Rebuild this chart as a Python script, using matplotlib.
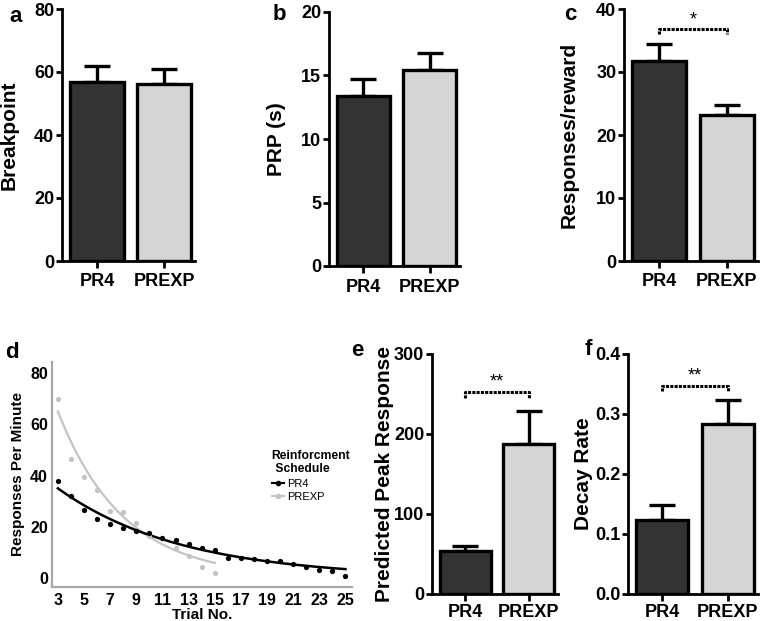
import numpy as np
import matplotlib
matplotlib.use('Agg')
import matplotlib.pyplot as plt
from matplotlib.lines import Line2D

plt.rcParams['font.family'] = ['Liberation Sans', 'DejaVu Sans']

# datos de las barras (media y error estandar)
groups = ['PR4', 'PREXP']
bar_colors = ['#333333', '#d4d4d4']

breakpoint_mean = [56.8, 56.3]
breakpoint_err = [5.2, 4.8]

prp_mean = [13.4, 15.4]
prp_err = [1.3, 1.4]

resp_reward_mean = [31.8, 23.2]
resp_reward_err = [2.6, 1.5]

peak_mean = [54, 187]
peak_err = [6, 42]

decay_mean = [0.123, 0.283]
decay_err = [0.025, 0.040]

# datos del panel d
trials_pr4 = list(range(3, 26))
rpm_pr4 = [38, 32, 26.5, 23, 21, 19.6, 18.2, 17.7, 15.5, 14.8, 13.3, 11.6,
           11, 8, 7.8, 7.4, 6.6, 6.5, 5.5, 4.4, 3.1, 2.9, 0.9]
trials_prexp = list(range(3, 16))
rpm_prexp = [70, 46.5, 39.5, 34.3, 26, 25.8, 21.5, 16.3, 15.6, 11.6, 8.5, 4.2, 2.1]

# parametros del ajuste exponencial
fit_pr4 = (35.0, 0.105)
fit_prexp = (65.0, 0.20)

W, H = 761, 621
fig = plt.figure(figsize=(W / 100, H / 100), dpi=100)


def px_axes(left, right, top, bottom):
    return fig.add_axes([left / W, 1 - bottom / H, (right - left) / W, (bottom - top) / H])


def panel_letter(x, y, txt):
    fig.text(x / W, 1 - y / H, txt, fontsize=16, fontweight='bold', ha='center', va='center')


def bar_panel(box, means, errs, ylim, yticks, ylabel, ylabel_x, fmt='{:g}', sig=None, xpad=4):
    left, right, top, bottom = box
    ax = px_axes(left, right, top, bottom)
    pos = np.arange(len(groups))
    ax.bar(pos, means, width=0.8, color=bar_colors, edgecolor='black', linewidth=2.4, zorder=2)
    ax.errorbar(pos, means, yerr=[np.zeros(len(means)), errs], fmt='none', ecolor='black',
                elinewidth=2.4, capsize=9.5, capthick=2.4, zorder=1)
    ax.set_xlim(-0.52, 1.46)
    ax.set_ylim(*ylim)
    ax.set_yticks(yticks)
    ax.set_yticklabels([fmt.format(t) for t in yticks])
    ax.set_xticks(pos)
    ax.set_xticklabels(groups)
    for s in ['top', 'right']:
        ax.spines[s].set_visible(False)
    for s in ['left', 'bottom']:
        ax.spines[s].set_linewidth(2)
    ax.tick_params(axis='y', length=4, width=2, pad=1.5, labelsize=13)
    ax.tick_params(axis='x', length=5, width=2, pad=xpad, labelsize=13)
    for lab in ax.get_xticklabels() + ax.get_yticklabels():
        lab.set_fontweight('bold')
    ax.set_ylabel(ylabel, fontsize=15, fontweight='bold')
    # la coordenada marca el borde derecho de la etiqueta girada
    ax.yaxis.set_label_coords((ylabel_x - left) / (right - left), 0.5)
    if sig is not None:
        y_end, y_bar, y_txt, stars = sig
        ax.plot([0, 0, 1, 1], [y_end, y_bar, y_bar, y_end], color='black', lw=2.2,
                linestyle=(0, (1, 0.4)), clip_on=False)
        ax.text(0.5, y_txt, stars, ha='center', va='center', fontsize=13)
    return ax


# a
bar_panel((62, 195, 9, 261), breakpoint_mean, breakpoint_err, (0, 80), [0, 20, 40, 60, 80],
          'Breakpoint', 19)
panel_letter(16, 17, 'a')

# b
bar_panel((329, 460, 12, 266), prp_mean, prp_err, (0, 20), [0, 5, 10, 15, 20],
          'PRP (s)', 286)
panel_letter(279, 15, 'b')

# c
bar_panel((624, 758, 9, 261), resp_reward_mean, resp_reward_err, (0, 40), [0, 10, 20, 30, 40],
          'Responses/reward', 579, sig=(36.1, 36.8, 38.2, '*'))
panel_letter(570, 15, 'c')

# e
bar_panel((432, 558, 354, 594), peak_mean, peak_err, (0, 300), [0, 100, 200, 300],
          'Predicted Peak Response', 394, sig=(245, 253, 265, '**'), xpad=2.5)
panel_letter(357, 351, 'e')

# f
bar_panel((628, 758, 354, 594), decay_mean, decay_err, (0, 0.4), [0, 0.1, 0.2, 0.3, 0.4],
          'Decay Rate', 593, fmt='{:.1f}', sig=(0.339, 0.346, 0.364, '**'), xpad=2.5)
panel_letter(588, 350, 'f')

# d
axd = px_axes(52, 352, 362, 587)
xs_pr4 = np.linspace(trials_pr4[0], trials_pr4[-1], 200)
xs_prexp = np.linspace(trials_prexp[0], trials_prexp[-1], 200)
axd.plot(xs_prexp, fit_prexp[0] * np.exp(-fit_prexp[1] * (xs_prexp - 3)), color='#c4c4c4', lw=1.6)
axd.plot(xs_pr4, fit_pr4[0] * np.exp(-fit_pr4[1] * (xs_pr4 - 3)), color='black', lw=1.8)
axd.plot(trials_prexp, rpm_prexp, 'o', color='#c4c4c4', ms=3.8, mec='none')
axd.plot(trials_pr4, rpm_pr4, 'o', color='black', ms=3.8, mec='none')
axd.set_xlim(2.55, 25.5)
axd.set_ylim(-3.5, 84.3)
axd.set_xticks(range(3, 26, 2))
axd.set_yticks([0, 20, 40, 60, 80])
for s in ['top', 'right']:
    axd.spines[s].set_visible(False)
for s in ['left', 'bottom']:
    axd.spines[s].set_color('#a8a8a8')
    axd.spines[s].set_linewidth(1.6)
axd.tick_params(length=0, labelsize=11.5)
axd.tick_params(axis='x', pad=4)
axd.tick_params(axis='y', pad=3)
for lab in axd.get_xticklabels() + axd.get_yticklabels():
    lab.set_fontweight('bold')
axd.set_xlabel('Trial No.', fontsize=11, fontweight='bold', labelpad=0)
axd.set_ylabel('Responses Per Minute', fontsize=11, fontweight='bold')
axd.yaxis.set_label_coords((25 - 52) / 300, 0.5)
panel_letter(12, 352, 'd')

handles = [Line2D([], [], color='black', marker='o', ms=3, lw=1.5),
           Line2D([], [], color='#c4c4c4', marker='o', ms=3, lw=1.5)]
leg = fig.legend(handles, ['PR4', 'PREXP'], title='Reinforcment\n Schedule',
                 loc='upper left', bbox_to_anchor=(266 / W, 1 - 444 / H), frameon=False,
                 fontsize=8, title_fontproperties={'weight': 'bold', 'size': 8.7},
                 handlelength=1.1, handletextpad=0.3, borderpad=0, labelspacing=0.3,
                 alignment='left')

fig.savefig('out.png', dpi=100)
